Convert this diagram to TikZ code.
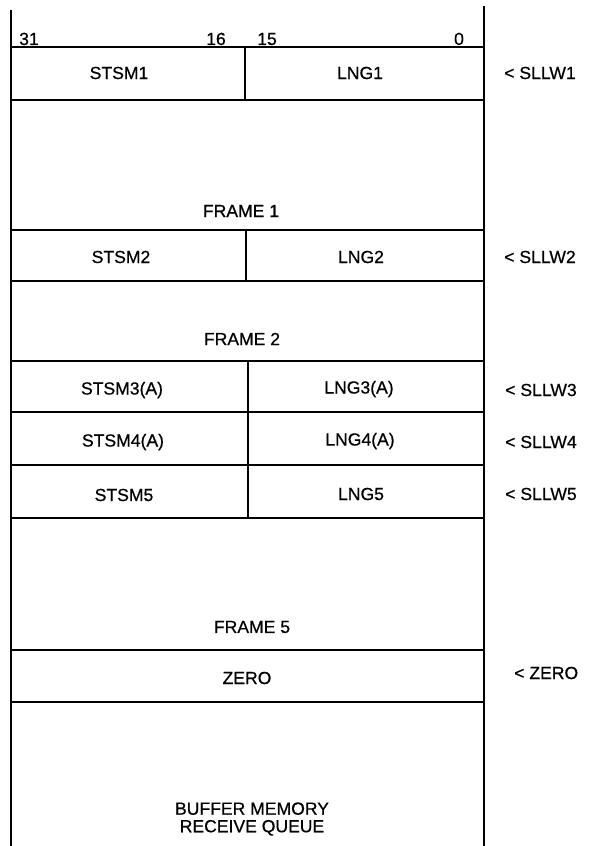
\documentclass[tikz,border=0pt]{standalone}
\usepackage{fontspec}
\setmainfont{Liberation Sans}[FakeBold=0.6]
\usetikzlibrary{positioning}

\begin{document}
\begin{tikzpicture}[
            x=0.03cm, y=-0.03cm,
            wall/.style={line width=1.8pt},
            rule/.style={line width=1.5pt},
            field/.style={font=\fontsize{15}{15}\selectfont, inner sep=0pt},
            bit/.style={field, anchor=base},
            tag/.style={field, anchor=west}
        ]
        \useasboundingbox (0,0) rectangle (588,846);

        % Rahmen
        \coordinate (lt) at (11,10);
        \coordinate (lb) at (11,846);
        \coordinate (rt) at (484,6);
        \coordinate (rb) at (484,846);
        \draw[wall] (lt) -- (lb);
        \draw[wall] (rt) -- (rb);
        \foreach \y in {47,100,230,281,361,412,465,518,650,702}
            \draw[rule] (11,\y) -- (484,\y);
        \draw[rule] (245,47) -- (245,100);
        \draw[rule] (246,230) -- (246,281);
        \draw[rule] (248,361) -- (248,518);

        % Bits
        \node[bit] (b31) at (29,45) {31};
        \node[bit] (b16) at (216,45) {16};
        \node[bit] (b15) at (267,45) {15};
        \node[bit] (b0) at (459,45) {0};

        % Felder
        \node[field] (stsm1) at (119,73) {STSM1};
        \node[field] (lng1) at (360,73) {LNG1};
        \node[field] (frame1) at (241,211) {FRAME 1};
        \node[field] (stsm2) at (121,257) {STSM2};
        \node[field] (lng2) at (361,257) {LNG2};
        \node[field] (frame2) at (242,339) {FRAME 2};
        \node[field] (stsm3) at (122,390) {STSM3(A)};
        \node[field] (lng3) at (359,389) {LNG3(A)};
        \node[field] (stsm4) at (123,442) {STSM4(A)};
        \node[field] (lng4) at (360,441) {LNG4(A)};
        \node[field] (stsm5) at (124,495) {STSM5};
        \node[field] (lng5) at (361,494) {LNG5};
        \node[field] (frame5) at (252,627) {FRAME 5};
        \node[field] (zero) at (247,678) {ZERO};
        \node[field, align=center, font=\fontsize{15}{15}\selectfont] (queue) at (252,819) {BUFFER MEMORY\\RECEIVE QUEUE};

        % Zeiger
        \node[tag] (sllw1) at (504,73) {< SLLW1};
        \node[tag] (sllw2) at (504,257) {< SLLW2};
        \node[tag] (sllw3) at (505,390) {< SLLW3};
        \node[tag] (sllw4) at (505,442) {< SLLW4};
        \node[tag] (sllw5) at (505,494) {< SLLW5};
        \node[tag] (zerotag) at (514,673) {< ZERO};

    \end{tikzpicture}
\end{document}
